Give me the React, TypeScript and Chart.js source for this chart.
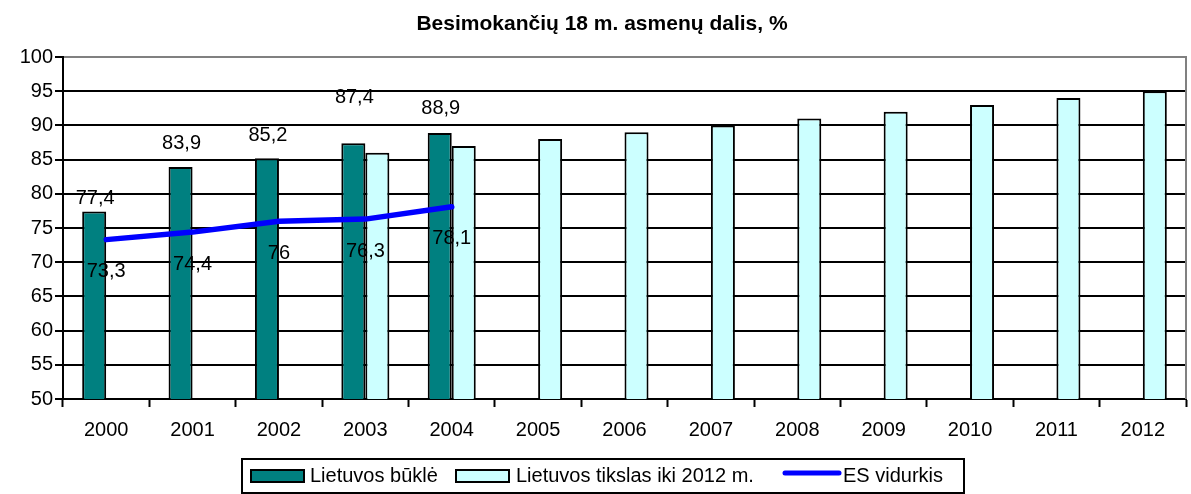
import React, { useEffect, useRef } from 'react';
import { Chart, registerables } from 'chart.js';

Chart.register(...registerables);

const chartTitle = 'Besimokančių 18 m. asmenų dalis, %';
const years = ['2000', '2001', '2002', '2003', '2004', '2005', '2006', '2007', '2008', '2009', '2010', '2011', '2012'];
const lietuvosBukle: (number | null)[] = [77.4, 83.9, 85.2, 87.4, 88.9, null, null, null, null, null, null, null, null];
const lietuvosTikslas: (number | null)[] = [null, null, null, 86, 87, 88, 89, 90, 91, 92, 93, 94, 95];
const esVidurkis: (number | null)[] = [73.3, 74.4, 76, 76.3, 78.1, null, null, null, null, null, null, null, null];
const seriesNames = ['Lietuvos būklė', 'Lietuvos tikslas iki 2012 m.', 'ES vidurkis'];
const yMin = 50;
const yMax = 100;
const yStep = 5;

const TEAL = '#008080';
const CYAN = '#CCFFFF';
const BLUE = '#0000FF';
const FONT = '"Liberation Sans", Arial, sans-serif';

// label gaps (px) above the bars, as placed in the original
const barLabelGap = [13, 24, 23, 46, 24];
const lineLabelGap = 32;

const fmt = (v: number) => String(v).replace('.', ',');

const decorPlugin = {
  id: 'decor',
  afterDatasetsDraw(chart: any) {
    const ctx = chart.ctx as CanvasRenderingContext2D;
    ctx.save();
    ctx.font = `20px ${FONT}`;
    ctx.fillStyle = '#000';
    ctx.textAlign = 'center';
    ctx.textBaseline = 'middle';
    const barMeta = chart.getDatasetMeta(0);
    barMeta.data.forEach((el: any, i: number) => {
      const v = lietuvosBukle[i];
      if (v == null) return;
      ctx.fillText(fmt(v), el.x + 1, el.y - (barLabelGap[i] ?? 20));
    });
    const lineMeta = chart.getDatasetMeta(2);
    lineMeta.data.forEach((el: any, i: number) => {
      const v = esVidurkis[i];
      if (v == null) return;
      ctx.fillText(fmt(v), el.x, el.y + lineLabelGap);
    });
    ctx.restore();
  },
  afterDraw(chart: any) {
    const ctx = chart.ctx as CanvasRenderingContext2D;
    const { top, bottom, right } = chart.chartArea;
    ctx.save();
    // right plot border (gray)
    ctx.strokeStyle = '#808080';
    ctx.lineWidth = 2;
    ctx.beginPath();
    ctx.moveTo(right, top - 1);
    ctx.lineTo(right, bottom);
    ctx.stroke();

    // title
    ctx.fillStyle = '#000';
    ctx.font = `bold 21px ${FONT}`;
    ctx.textAlign = 'center';
    ctx.textBaseline = 'alphabetic';
    ctx.fillText(chartTitle, 602, 30);

    // legend
    const lx = 242, ly = 459, lw = 722, lh = 34;
    ctx.strokeStyle = '#000';
    ctx.lineWidth = 2;
    ctx.strokeRect(lx, ly, lw, lh);
    ctx.font = `20px ${FONT}`;
    ctx.textAlign = 'left';
    ctx.textBaseline = 'middle';
    const cy = ly + 17;
    // item 1
    ctx.fillStyle = TEAL;
    ctx.fillRect(251, cy - 6, 53, 12);
    ctx.strokeRect(251, cy - 6, 53, 12);
    ctx.fillStyle = '#000';
    ctx.fillText(seriesNames[0], 310, cy);
    // item 2
    ctx.fillStyle = CYAN;
    ctx.fillRect(456, cy - 6, 53, 12);
    ctx.strokeRect(456, cy - 6, 53, 12);
    ctx.fillStyle = '#000';
    ctx.fillText(seriesNames[1], 516, cy);
    // item 3
    ctx.strokeStyle = BLUE;
    ctx.lineWidth = 5;
    ctx.lineCap = 'round';
    ctx.beginPath();
    ctx.moveTo(785, cy - 3);
    ctx.lineTo(839, cy - 3);
    ctx.stroke();
    ctx.fillStyle = '#000';
    ctx.fillText(seriesNames[2], 843, cy);
    ctx.restore();
  },
};

export default function App() {
  const canvasRef = useRef<HTMLCanvasElement | null>(null);

  useEffect(() => {
    if (!canvasRef.current) return;
    const chart = new Chart(canvasRef.current, {
      type: 'bar',
      data: {
        labels: years,
        datasets: [
          {
            type: 'bar',
            label: seriesNames[0],
            data: lietuvosBukle,
            backgroundColor: TEAL,
            borderColor: '#000',
            borderWidth: 2,
            categoryPercentage: 0.556,
            barPercentage: 1,
            order: 1,
          },
          {
            type: 'bar',
            label: seriesNames[1],
            data: lietuvosTikslas,
            backgroundColor: CYAN,
            borderColor: '#000',
            borderWidth: 2,
            categoryPercentage: 0.556,
            barPercentage: 1,
            order: 1,
          },
          {
            type: 'line',
            label: seriesNames[2],
            data: esVidurkis,
            borderColor: BLUE,
            backgroundColor: BLUE,
            borderWidth: 5.5,
            pointRadius: 0,
            tension: 0,
            borderCapStyle: 'round',
            borderJoinStyle: 'round',
            order: 0,
          } as any,
        ],
      },
      options: {
        animation: false,
        responsive: true,
        maintainAspectRatio: false,
        events: [],
        layout: { padding: { top: 57, right: 5, bottom: 50, left: 0 } },
        plugins: {
          legend: { display: false },
          title: { display: false },
          tooltip: { enabled: false },
        },
        scales: {
          x: {
            offset: true,
            grid: {
              display: true,
              drawOnChartArea: false,
              drawTicks: true,
              tickLength: 8,
              tickColor: '#000',
              tickWidth: 2,
              offset: true,
            },
            border: { display: true, color: '#000', width: 2 },
            ticks: {
              color: '#000',
              font: { family: FONT, size: 20 },
              padding: 11,
              maxRotation: 0,
              autoSkip: false,
            },
            afterFit: (scale: any) => {
              scale.height = 45;
            },
          },
          y: {
            min: yMin,
            max: yMax,
            grid: {
              color: (c: any) => (c.tick && c.tick.value === yMax ? '#808080' : '#000'),
              lineWidth: 2,
              tickColor: '#000',
              tickLength: 8,
              tickWidth: 2,
              drawTicks: true,
            },
            border: { display: true, color: '#000', width: 2 },
            ticks: {
              stepSize: yStep,
              color: '#000',
              font: { family: FONT, size: 20 },
              padding: 2,
            },
            afterFit: (scale: any) => {
              scale.width = 63;
            },
          },
        },
      },
      plugins: [decorPlugin],
    });
    return () => chart.destroy();
  }, []);

  return (
    <div style={{ position: 'absolute', left: 0, top: 0, width: 1191, height: 494, background: '#fff' }}>
      <canvas ref={canvasRef} />
    </div>
  );
}
